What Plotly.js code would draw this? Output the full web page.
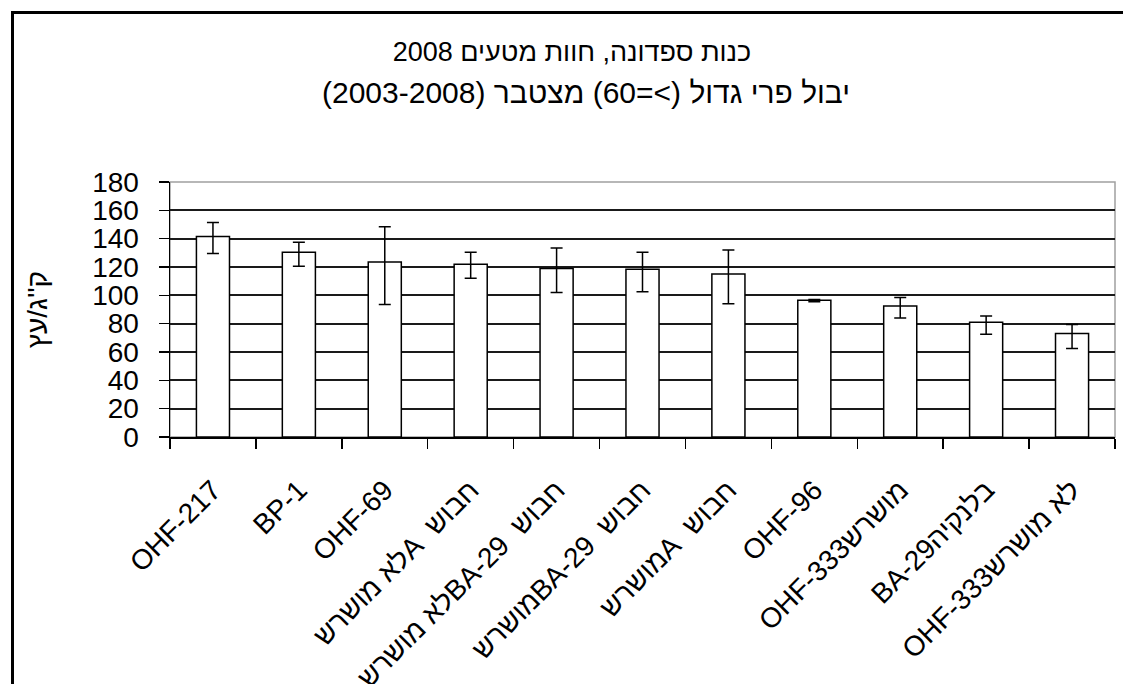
<!DOCTYPE html>
<html>
<head>
<meta charset="utf-8">
<script src="https://cdn.plot.ly/plotly-3.0.1.min.js"></script>
<style>
  html, body { margin: 0; padding: 0; background: #fff; }
  #chart { width: 1123px; height: 684px; }
  #frame { position: absolute; left: 11px; top: 11px; width: 1123px; height: 700px;
           border-left: 3px solid #000; border-top: 3px solid #000; pointer-events: none; }
</style>
</head>
<body>
<div id="chart"></div>
<div id="frame"></div>
<script>
const RLE = '\u202B', PDF = '\u202C', NB = '\u00A0';
const rtl = s => RLE + s + PDF;

const categories = [
  'OHF-217',
  'BP-1',
  'OHF-69',
  rtl('חבוש' + NB + ' Aלא מושרש'),
  rtl('חבוש' + NB + ' BA-29לא מושרש'),
  rtl('חבוש' + NB + ' BA-29מושרש'),
  rtl('חבוש' + NB + ' Aמושרש'),
  'OHF-96',
  rtl('מושרשOHF-333'),
  rtl('בלנקיהBA-29'),
  rtl('לא מושרשOHF-333')
];
const yieldValues = [141.5, 130.5, 123.5, 122, 119, 118.5, 115, 96.5, 92.5, 81, 73];
const errPlus  = [10, 7, 25, 8.5, 14.5, 12, 17, 0.5, 6, 4.5, 6.5];
const errMinus = [12, 10, 30, 10, 17, 16, 21, 1, 8.5, 8.5, 10.5];
const yTickVals = [0, 20, 40, 60, 80, 100, 120, 140, 160, 180];

const titleLine1 = rtl('כנות ספדונה, חוות מטעים 2008');
const titleLine2 = rtl('יבול פרי גדול (&gt;=60) מצטבר (2003-2008)');
const yTitle = rtl("ק''ג/עץ");

const FONT = 'Liberation Sans, Arial, sans-serif';

const trace = {
  type: 'bar',
  x: categories,
  y: yieldValues,
  marker: { color: '#ffffff', line: { color: '#000000', width: 1.5 } },
  error_y: {
    type: 'data', symmetric: false,
    array: errPlus, arrayminus: errMinus,
    color: '#000000', thickness: 1.5, width: 6
  },
  hoverinfo: 'none'
};

const layout = {
  width: 1123, height: 684,
  margin: { l: 170, r: 8, t: 182, b: 247 },
  paper_bgcolor: '#ffffff', plot_bgcolor: '#ffffff',
  showlegend: false,
  bargap: 0.615,
  font: { family: FONT, color: '#000', size: 26 },
  title: {
    text: titleLine1,
    font: { family: FONT, size: 27, color: '#000' },
    x: 572 / 1123, xanchor: 'center', xref: 'container',
    y: 1 - 52 / 684, yanchor: 'middle', yref: 'container'
  },
  annotations: [{
    text: titleLine2, showarrow: false,
    xref: 'paper', yref: 'paper', x: (586 - 170) / 945, y: (684 - 247 - 93) / 255,
    xanchor: 'center', yanchor: 'middle',
    font: { family: FONT, size: 30, color: '#000' }
  }],
  xaxis: {
    type: 'category',
    showline: true, linecolor: '#000', linewidth: 1.5,
    ticks: 'outside', ticklen: 10, tickwidth: 1.5, tickcolor: '#000',
    tickson: 'boundaries',
    tickangle: -45,
    ticklabelstandoff: 24,
    tickfont: { family: FONT, size: 28, color: '#000' },
    showgrid: false, zeroline: false, fixedrange: true
  },
  yaxis: {
    range: [0, 180],
    tickvals: yTickVals,
    showline: true, linecolor: '#000', linewidth: 1.5,
    ticks: 'outside', ticklen: 10, tickwidth: 1.5, tickcolor: '#000',
    ticklabelstandoff: 14,
    tickfont: { family: FONT, size: 28, color: '#000' },
    showgrid: true, gridcolor: '#1a1a1a', gridwidth: 2,
    zeroline: false, fixedrange: true,
    title: { text: yTitle, font: { family: FONT, size: 28, color: '#000' }, standoff: 36 }
  },
  shapes: [{
    type: 'rect', xref: 'paper', yref: 'paper', x0: 0, x1: 1, y0: 0, y1: 1,
    line: { color: '#a0a0a0', width: 1.5 }, layer: 'between'
  }]
};

Plotly.newPlot('chart', [trace], layout, { displayModeBar: false, staticPlot: true });
</script>
</body>
</html>
